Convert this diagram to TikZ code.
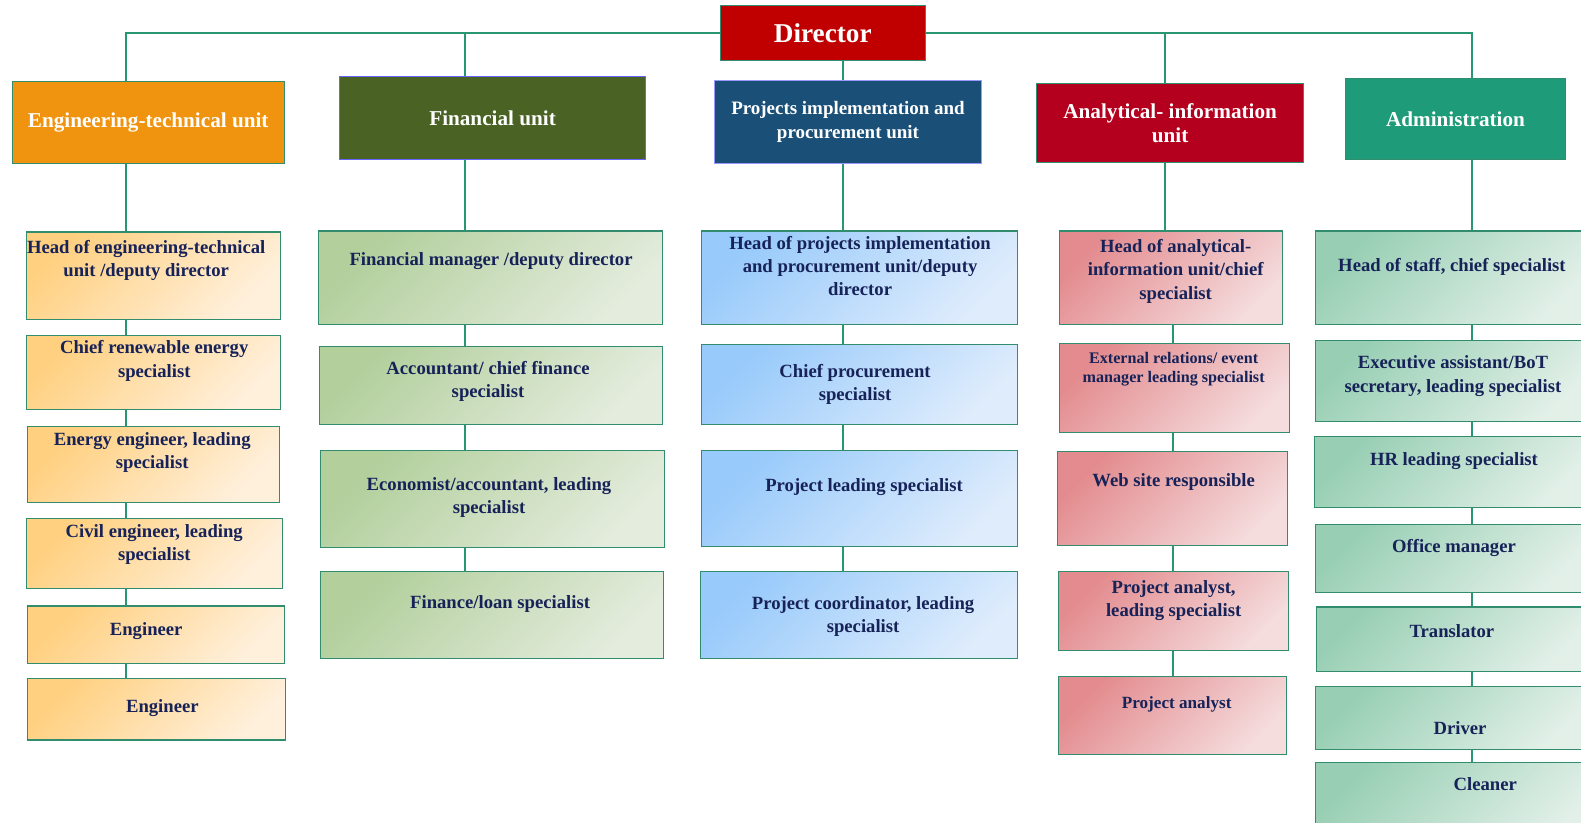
\documentclass[tikz,border=0pt]{standalone}
\usepackage{fontspec}
\setmainfont{Liberation Serif}
\usetikzlibrary{calc}
\definecolor{linkgreen}{RGB}{40,150,115}
\definecolor{postedge}{RGB}{50,140,110}
\definecolor{navytext}{RGB}{22,34,88}
\definecolor{dirred}{RGB}{192,0,0}
\definecolor{engunit}{RGB}{240,148,15}
\definecolor{finunit}{RGB}{74,98,35}
\definecolor{prjunit}{RGB}{26,80,120}
\definecolor{anaunit}{RGB}{180,0,30}
\definecolor{admunit}{RGB}{30,155,120}
\definecolor{engA}{RGB}{255,208,128}
\definecolor{engB}{RGB}{255,240,220}
\definecolor{finA}{RGB}{178,207,156}
\definecolor{finB}{RGB}{228,236,221}
\definecolor{prjA}{RGB}{152,202,251}
\definecolor{prjB}{RGB}{222,236,252}
\definecolor{anaA}{RGB}{227,139,142}
\definecolor{anaB}{RGB}{245,220,221}
\definecolor{admA}{RGB}{152,207,180}
\definecolor{admB}{RGB}{226,240,232}
\def\mainsize{\fontsize{18.5}{23}\selectfont\bfseries}
\def\smallsize{\fontsize{16}{19}\selectfont\bfseries}

\begin{document}
\begin{tikzpicture}[x=1pt,y=-1pt]
    \tikzstyle{link}=[draw=linkgreen, line width=2pt]
    \tikzstyle{unit}=[rectangle, draw=postedge, line width=0.8pt, inner sep=0pt, text=white, align=center, font=\fontsize{21}{24}\selectfont\bfseries]
    \tikzstyle{post}=[rectangle, draw=postedge, line width=1.2pt, inner sep=0pt]
    \tikzstyle{eng post}=[post, top color=engA, bottom color=engB, shading angle=45]
    \tikzstyle{fin post}=[post, top color=finA, bottom color=finB, shading angle=45]
    \tikzstyle{prj post}=[post, top color=prjA, bottom color=prjB, shading angle=45]
    \tikzstyle{ana post}=[post, top color=anaA, bottom color=anaB, shading angle=45]
    \tikzstyle{adm post}=[post, top color=admA, bottom color=admB, shading angle=45]
    \tikzstyle{caption}=[text=navytext, align=center, inner sep=0pt, font=\mainsize]
    \tikzstyle{small caption}=[caption, font=\smallsize]

    \clip (0,0) rectangle (1568,816);

    % columns of the connectors
    \coordinate (colE) at (124.5,0);
    \coordinate (colF) at (461,0);
    \coordinate (colP) at (836.5,0);
    \coordinate (colA) at (1155,0);
    \coordinate (colAb) at (1163,0);
    \coordinate (colS) at (1460,0);

    % Director and units
    \node[unit, fill=dirred, minimum width=204, minimum height=55, font=\fontsize{27}{30}\selectfont\bfseries] (Dir) at (816,32.5) {Director};
    \node[unit, fill=engunit, minimum width=270, minimum height=81] (U-1) at (147,121.5) {Engineering-technical unit};
    \node[unit, fill=finunit, draw=blue!60, minimum width=303, minimum height=82] (U-2) at (488.5,117) {Financial unit};
    \node[unit, fill=prjunit, draw=blue!40, minimum width=264, minimum height=82, font=\fontsize{18.8}{23}\selectfont\bfseries] (U-3) at (841,121) {Projects implementation and\\procurement unit};
    \node[unit, fill=anaunit, minimum width=265, minimum height=78] (U-4) at (1160.5,122) {Analytical- information\\unit};
    \node[unit, fill=admunit, minimum width=219, minimum height=80] (U-5) at (1443.5,118) {Administration};

    % Engineering-technical unit
    \node[eng post, minimum width=252, minimum height=87] (E-1) at (152,273.5) {};
    \node[eng post, minimum width=252, minimum height=73] (E-2) at (152,369.5) {};
    \node[eng post, minimum width=250, minimum height=75] (E-3) at (152,460.5) {};
    \node[eng post, minimum width=254, minimum height=70] (E-4) at (153,549) {};
    \node[eng post, minimum width=255, minimum height=57] (E-5) at (154.5,629.5) {};
    \node[eng post, minimum width=256, minimum height=61] (E-6) at (155,703.5) {};
    \node[caption] (tE-1) at (145,258.5) {Head of engineering-technical\\unit /deputy director};
    \node[caption] (tE-2) at (153,358) {Chief renewable energy\\specialist};
    \node[caption] (tE-3) at (151,449) {Energy engineer, leading\\specialist};
    \node[caption] (tE-4) at (153,540) {Civil engineer, leading\\specialist};
    \node[caption] (tE-5) at (145,626) {Engineer};
    \node[caption] (tE-6) at (161,702) {Engineer};

    % Financial unit
    \node[fin post, minimum width=341, minimum height=93] (F-1) at (486.5,275.5) {};
    \node[fin post, minimum width=340, minimum height=77] (F-2) at (487,382.5) {};
    \node[fin post, minimum width=341, minimum height=96] (F-3) at (488.5,495) {};
    \node[fin post, minimum width=340, minimum height=86] (F-4) at (488,610) {};
    \node[caption] (tF-1) at (487,259) {Financial manager /deputy director};
    \node[caption] (tF-2) at (484,378.5) {Accountant/ chief finance\\specialist};
    \node[caption] (tF-3) at (485,493.5) {Economist/accountant, leading\\specialist};
    \node[caption] (tF-4) at (496,599) {Finance/loan specialist};

    % Projects implementation and procurement unit
    \node[prj post, minimum width=313, minimum height=93] (P-1) at (852.5,275.5) {};
    \node[prj post, minimum width=313, minimum height=79] (P-2) at (852.5,381.5) {};
    \node[prj post, minimum width=313, minimum height=95] (P-3) at (852.5,494.5) {};
    \node[prj post, minimum width=314, minimum height=86] (P-4) at (852,610) {};
    \node[caption] (tP-1) at (853,264) {Head of projects implementation\\and procurement unit/deputy\\director};
    \node[caption] (tP-2) at (848,381.5) {Chief procurement\\specialist};
    \node[caption] (tP-3) at (857,483) {Project leading specialist};
    \node[caption] (tP-4) at (856,611.5) {Project coordinator, leading\\specialist};

    % Analytical-information unit
    \node[ana post, minimum width=221, minimum height=93] (A-1) at (1161.5,275.5) {};
    \node[ana post, minimum width=228, minimum height=88] (A-2) at (1165,385) {};
    \node[ana post, minimum width=228, minimum height=93] (A-3) at (1163,494.5) {};
    \node[ana post, minimum width=228, minimum height=78] (A-4) at (1164,606) {};
    \node[ana post, minimum width=226, minimum height=77] (A-5) at (1163,709.5) {};
    \node[caption] (tA-1) at (1166,269) {Head of analytical-\\information unit/chief\\specialist};
    \node[small caption] (tA-2) at (1164,366.5) {External relations/ event\\manager leading specialist};
    \node[caption] (tA-3) at (1164,478) {Web site responsible};
    \node[caption, font=\fontsize{17}{20}\selectfont\bfseries] (tA-5) at (1167,699) {Project analyst};
    \node[caption] (tA-4) at (1164,595.5) {Project analyst,\\leading specialist};

    % Administration
    \node[adm post, minimum width=273, minimum height=93] (S-1) at (1441.5,275.5) {};
    \node[adm post, minimum width=273, minimum height=80] (S-2) at (1441.5,378) {};
    \node[adm post, minimum width=274, minimum height=70] (S-3) at (1441,468) {};
    \node[adm post, minimum width=273, minimum height=68] (S-4) at (1441.5,554) {};
    \node[adm post, minimum width=272, minimum height=64] (S-5) at (1442,634) {};
    \node[adm post, minimum width=273, minimum height=62] (S-6) at (1441.5,712) {};
    \node[adm post, minimum width=273, minimum height=84] (S-7) at (1441.5,798) {};
    \node[caption] (tS-1) at (1440,265) {Head of staff, chief specialist};
    \node[caption] (tS-2) at (1441,373) {Executive assistant/BoT\\secretary, leading specialist};
    \node[caption] (tS-3) at (1442,457) {HR leading specialist};
    \node[caption] (tS-4) at (1442,543) {Office manager};
    \node[caption] (tS-5) at (1440,626) {Translator};
    \node[caption] (tS-6) at (1448,722) {Driver};
    \node[caption] (tS-7) at (1473,778) {Cleaner};

    % Director to the units
    \draw[link] (Dir.west) -| (U-1.north -| colE);
    \draw[link] (Dir.west) -| (U-2.north -| colF);
    \draw[link] (Dir.south -| colP) -- (U-3.north -| colP);
    \draw[link] (Dir.east) -| (U-4.north -| colA);
    \draw[link] (Dir.east) -| (U-5.north -| colS);

    % units to the first posts
    \draw[link] (U-1.south -| colE) -- (E-1.north -| colE);
    \draw[link] (U-2.south -| colF) -- (F-1.north -| colF);
    \draw[link] (U-3.south -| colP) -- (P-1.north -| colP);
    \draw[link] (U-4.south -| colA) -- (A-1.north -| colA);
    \draw[link] (U-5.south -| colS) -- (S-1.north -| colS);

    % posts down each column
    \foreach \a / \b in {1/2,2/3,3/4,4/5,5/6}
        \draw[link] (E-\a.south -| colE) -- (E-\b.north -| colE);
    \foreach \a / \b in {1/2,2/3,3/4}
        \draw[link] (F-\a.south -| colF) -- (F-\b.north -| colF);
    \foreach \a / \b in {1/2,2/3,3/4}
        \draw[link] (P-\a.south -| colP) -- (P-\b.north -| colP);
    \foreach \a / \b in {1/2,2/3,3/4,4/5}
        \draw[link] (A-\a.south -| colAb) -- (A-\b.north -| colAb);
    \foreach \a / \b in {1/2,2/3,3/4,4/5,5/6,6/7}
        \draw[link] (S-\a.south -| colS) -- (S-\b.north -| colS);
\end{tikzpicture}
\end{document}
